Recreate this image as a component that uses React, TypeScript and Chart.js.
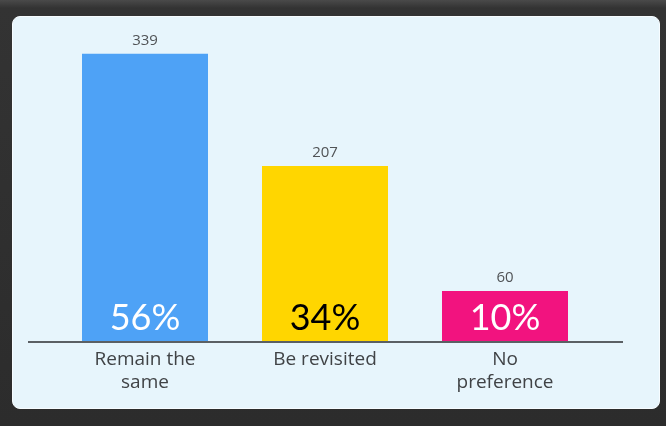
import React, { useEffect, useRef } from "react";
import { Chart, registerables } from "chart.js";

Chart.register(...registerables);

const categories: string[][] = [["Remain the", "same"], ["Be revisited"], ["No", "preference"]];
const counts: number[] = [339, 207, 60];
const percentLabels: string[] = ["56%", "34%", "10%"];
const barColors: string[] = ["#4ea2f6", "#ffd600", "#f2137f"];
const percentColors: string[] = ["#ffffff", "#000000", "#ffffff"];

const labelPlugin = {
  id: "barLabels",
  afterDatasetsDraw(chart: any) {
    const ctx = chart.ctx as CanvasRenderingContext2D;
    const meta = chart.getDatasetMeta(0);
    const y0 = chart.scales.y.getPixelForValue(0);
    const area = chart.chartArea;
    ctx.save();
    ctx.strokeStyle = "#5b6064";
    ctx.lineWidth = 2;
    ctx.beginPath();
    ctx.moveTo(area.left - 27, y0);
    ctx.lineTo(area.right + 28, y0);
    ctx.stroke();
    ctx.textAlign = "center";
    ctx.textBaseline = "middle";
    meta.data.forEach((bar: any, i: number) => {
      ctx.font = "15px 'Open Sans', sans-serif";
      ctx.fillStyle = "#505356";
      ctx.fillText(String(counts[i]), bar.x, bar.y - 13);
      ctx.font = "36px Lato, sans-serif";
      ctx.fillStyle = percentColors[i];
      ctx.fillText(percentLabels[i], bar.x, y0 - 24);
    });
    ctx.restore();
  },
};

export default function App() {
  const canvasRef = useRef<HTMLCanvasElement | null>(null);

  useEffect(() => {
    if (!canvasRef.current) return;
    const chart = new Chart(canvasRef.current, {
      type: "bar",
      data: {
        labels: categories,
        datasets: [
          {
            data: counts,
            backgroundColor: barColors,
            borderWidth: 0,
            categoryPercentage: 0.7,
            barPercentage: 1,
          },
        ],
      },
      options: {
        responsive: false,
        animation: false,
        layout: { padding: { left: 55, right: 71, top: 19, bottom: 0 } },
        plugins: { legend: { display: false }, tooltip: { enabled: false } },
        scales: {
          y: { display: false, min: 0, max: 380 },
          x: {
            grid: { display: false },
            border: { display: false },
            ticks: {
              color: "#404346",
              padding: -2,
              font: { family: "'Open Sans', sans-serif", size: 19, lineHeight: 1.2 },
              maxRotation: 0,
              autoSkip: false,
            },
            afterFit: (scale: any) => {
              scale.height = 84;
            },
          },
        },
      },
      plugins: [labelPlugin],
    });
    return () => chart.destroy();
  }, []);

  return (
    <div
      style={{
        position: "fixed",
        left: 0,
        top: 0,
        width: 666,
        height: 426,
        background: "linear-gradient(#4a4a4a 0px, #333 8px, #2c2c2c 100%)",
        overflow: "hidden",
      }}
    >
      <div
        style={{
          position: "absolute",
          left: 12,
          top: 16,
          width: 646,
          height: 391,
          background: "#e7f5fc",
          border: "1.5px solid #f7fcff",
          borderRadius: 8,
        }}
      />
      <canvas
        ref={canvasRef}
        width={666}
        height={426}
        style={{ position: "absolute", left: 0, top: 0, width: 666, height: 426 }}
      />
    </div>
  );
}
